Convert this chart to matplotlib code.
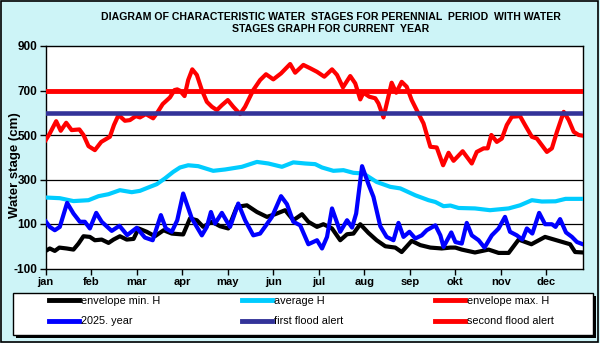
import matplotlib
matplotlib.use("Agg")
import matplotlib.pyplot as plt
from matplotlib.patches import Rectangle
from matplotlib.lines import Line2D

plt.rcParams['font.family'] = ['Liberation Sans', 'DejaVu Sans']

months = ['jan', 'feb', 'mar', 'apr', 'may', 'jun', 'jul', 'aug', 'sep', 'okt', 'nov', 'dec']
yticks = [-100, 100, 300, 500, 700, 900]

# envelope max. H (x in months from 1 Jan)
max_x = [0.00, 0.09, 0.23, 0.33, 0.45, 0.57, 0.74, 0.83, 0.94, 1.08, 1.22, 1.41, 1.50, 1.60, 1.74, 1.85,
         1.98, 2.07, 2.20, 2.36, 2.45, 2.57, 2.73, 2.83, 2.89, 2.95, 3.05, 3.13, 3.22, 3.32, 3.43, 3.54,
         3.65, 3.76, 3.87, 4.00, 4.12, 4.27, 4.38, 4.56, 4.71, 4.84, 5.00, 5.17, 5.37, 5.48, 5.66, 5.81,
         5.96, 6.12, 6.29, 6.40, 6.53, 6.69, 6.80, 6.91, 6.98, 7.11, 7.24, 7.31, 7.42, 7.51, 7.60, 7.70,
         7.82, 7.93, 8.04, 8.15, 8.30, 8.45, 8.59, 8.73, 8.85, 8.96, 9.16, 9.36, 9.47, 9.62, 9.71, 9.79,
         9.91, 10.02, 10.13, 10.24, 10.42, 10.53, 10.68, 10.79, 10.90, 11.01, 11.12, 11.23, 11.38, 11.49,
         11.60, 11.71, 11.80]
max_v = [477, 507, 562, 519, 555, 522, 525, 500, 450, 432, 469, 492, 545, 590, 564, 567,
         585, 579, 594, 575, 600, 639, 669, 702, 705, 699, 675, 747, 795, 770, 702, 649,
         627, 612, 634, 657, 627, 594, 627, 702, 747, 773, 750, 777, 819, 780, 815, 800,
         784, 762, 795, 770, 714, 765, 732, 660, 690, 672, 665, 642, 579, 657, 735, 690,
         739, 717, 657, 612, 552, 447, 444, 364, 420, 384, 427, 372, 424, 440, 440, 500,
         469, 484, 545, 582, 585, 545, 492, 484, 454, 424, 440, 514, 604, 567,
         514, 500, 497]

# average H
avg_x = [0.00, 0.31, 0.61, 0.94, 1.16, 1.38, 1.63, 1.89, 2.07, 2.29, 2.44, 2.62, 2.80, 2.95, 3.13, 3.35,
         3.68, 3.94, 4.31, 4.64, 4.89, 5.19, 5.44, 5.70, 5.92, 6.07, 6.32, 6.54, 6.76, 6.98, 7.27, 7.57,
         7.79, 8.12, 8.41, 8.56, 8.74, 8.89, 9.07, 9.43, 9.76, 10.17, 10.42, 10.68, 10.90, 11.20, 11.42, 11.80]
avg_v = [219, 216, 203, 207, 225, 234, 252, 243, 249, 267, 279, 305, 334, 354, 364, 360,
         339, 345, 357, 379, 372, 357, 377, 372, 369, 354, 339, 342, 330, 327, 289, 267,
         260, 229, 207, 199, 180, 183, 172, 170, 162, 170, 184, 207, 201, 202, 213, 213]

# envelope min. H
min_x = [0.00, 0.09, 0.20, 0.30, 0.46, 0.61, 0.72, 0.83, 0.97, 1.08, 1.23, 1.38, 1.49, 1.63, 1.78, 1.93,
         2.04, 2.22, 2.40, 2.59, 2.77, 2.95, 3.02, 3.17, 3.32, 3.46, 3.65, 3.83, 4.01, 4.20, 4.42, 4.64,
         4.86, 5.04, 5.26, 5.44, 5.63, 5.77, 5.96, 6.10, 6.29, 6.47, 6.62, 6.76, 6.91, 7.09, 7.27, 7.46,
         7.68, 7.82, 8.04, 8.23, 8.45, 8.70, 8.89, 9.00, 9.14, 9.43, 9.73, 9.95, 10.17, 10.39, 10.67,
         10.97, 11.27, 11.52, 11.63, 11.80]
min_v = [-21, -10, -21, -6, -10, -15, 12, 45, 42, 27, 30, 15, 30, 45, 30, 33,
         80, 65, 45, 72, 57, 54, 53, 125, 117, 87, 110, 90, 80, 177, 184, 154,
         132, 144, 162, 117, 144, 110, 87, 99, 80, 27, 54, 57, 99, 60, 27, 0,
         -6, -26, 24, 5, -6, -10, -6, -6, -15, -28, -15, -30, -30, 30, 9,
         42, 24, 9, -26, -28]

# 2025. year
cur_x = [0.00, 0.09, 0.20, 0.31, 0.47, 0.61, 0.75, 0.86, 0.97, 1.11, 1.23, 1.45, 1.62, 1.79, 2.00, 2.18,
         2.35, 2.53, 2.64, 2.77, 2.89, 3.02, 3.21, 3.43, 3.54, 3.63, 3.72, 3.87, 4.05, 4.23, 4.38, 4.56,
         4.71, 4.84, 4.97, 5.17, 5.30, 5.44, 5.59, 5.77, 5.96, 6.07, 6.18, 6.29, 6.47, 6.62, 6.73, 6.82,
         6.95, 7.09, 7.20, 7.35, 7.49, 7.64, 7.75, 7.86, 7.99, 8.12, 8.26, 8.37, 8.56, 8.67, 8.74, 8.91,
         9.00, 9.14, 9.25, 9.36, 9.51, 9.64, 9.80, 9.95, 10.09, 10.20, 10.35, 10.47, 10.57, 10.69, 10.84,
         10.97, 11.12, 11.20, 11.30, 11.43, 11.56, 11.67, 11.80]
cur_v = [112, 87, 72, 87, 195, 147, 110, 110, 80, 150, 110, 69, 92, 50, 83, 39,
         27, 140, 80, 65, 117, 237, 125, 49, 87, 154, 102, 150, 87, 192, 117, 49,
         57, 94, 132, 225, 189, 110, 94, 9, 27, -10, 42, 170, 65, 117, 84, 147,
         360, 279, 222, 90, 42, 27, 105, 42, 65, 35, 49, 72, 94, 49, -3, 62,
         19, 12, 105, 49, 27, -6, 49, 80, 132, 65, 49, 30, 80, 57, 150,
         99, 99, 87, 122, 62, 42, 19, 9]

first_alert = 600
second_alert = 700

title = "DIAGRAM OF CHARACTERISTIC WATER  STAGES FOR PERENNIAL  PERIOD  WITH WATER\nSTAGES GRAPH FOR CURRENT  YEAR"

W, H = 600, 343
bg = '#cdf4f7'
fig = plt.figure(figsize=(6, 3.43), dpi=100, facecolor=bg)

def fx(px):
    return px / W

def fy(py):
    return 1 - py / H

ax = fig.add_axes([fx(45.7), fy(268.5), fx(583.3) - fx(45.7), fy(46) - fy(268.5)])
ax.set_facecolor('white')
ax.set_xlim(0, 11.81)
ax.set_ylim(-100, 900)
ax.set_yticks(yticks)
ax.set_xticks(range(12))
ax.set_xticklabels(months, fontsize=8, fontweight='bold')
ax.set_yticklabels([str(v) for v in yticks], fontsize=8.5, fontweight='bold')
ax.tick_params(axis='both', direction='out', length=4, width=1, color='black', pad=2)
for s in ax.spines.values():
    s.set_linewidth(1)
    s.set_color('black')
for g in [100, 300, 500, 700]:
    ax.axhline(g, color='black', lw=0.9, zorder=1)

lw = 3
h_min, = ax.plot(min_x, min_v, color='black', lw=lw, zorder=3, solid_joinstyle='round')
h_avg, = ax.plot(avg_x, avg_v, color='#00ccff', lw=lw, zorder=3, solid_joinstyle='round')
h_max, = ax.plot(max_x, max_v, color='#ff0000', lw=lw, zorder=3, solid_joinstyle='round')
h_cur, = ax.plot(cur_x, cur_v, color='#0000ff', lw=lw, zorder=4, solid_joinstyle='round')
h_f1 = ax.axhline(first_alert, color='#333399', lw=3.3, zorder=5)
h_f2 = ax.axhline(second_alert, color='#ff0000', lw=3.5, zorder=5)

fig.text(fx(331), fy(22.5), title, ha='center', va='center', fontsize=7.6,
         fontweight='bold', linespacing=1.25)
fig.text(fx(15), fy(165), 'Water stage (cm)', rotation=90, ha='center', va='center',
         fontsize=9.5, fontweight='bold')

# legend box with shadow
fig.patches.append(Rectangle((fx(16), fy(338)), fx(580), 42 / H, transform=fig.transFigure,
                             facecolor='black', edgecolor='none', zorder=0))
fig.patches.append(Rectangle((fx(13), fy(335)), fx(580), 42 / H, transform=fig.transFigure,
                             facecolor='white', edgecolor='black', lw=1, zorder=1))

cols = [[(h_min, 'envelope min. H'), (h_cur, '2025. year')],
        [(h_avg, 'average H'), (h_f1, 'first flood alert')],
        [(h_max, 'envelope max. H'), (h_f2, 'second flood alert')]]
for i, col in enumerate(cols):
    handles = [Line2D([], [], color=h.get_color(), lw=3.5) for h, _ in col]
    labels = [l for _, l in col]
    leg = fig.legend(handles, labels, loc='upper left',
                     bbox_to_anchor=(fx(49 + 193 * i), fy(296)), frameon=False,
                     fontsize=7.8, handlelength=2.8, handletextpad=0.15,
                     borderpad=0, borderaxespad=0, labelspacing=0.95)

# figure border
fig.patches.append(Rectangle((0.001, 0.002), 0.995, 0.994, transform=fig.transFigure,
                             facecolor='none', edgecolor='black', lw=1.2, zorder=10))

fig.savefig('out.png', dpi=100, facecolor=bg)
